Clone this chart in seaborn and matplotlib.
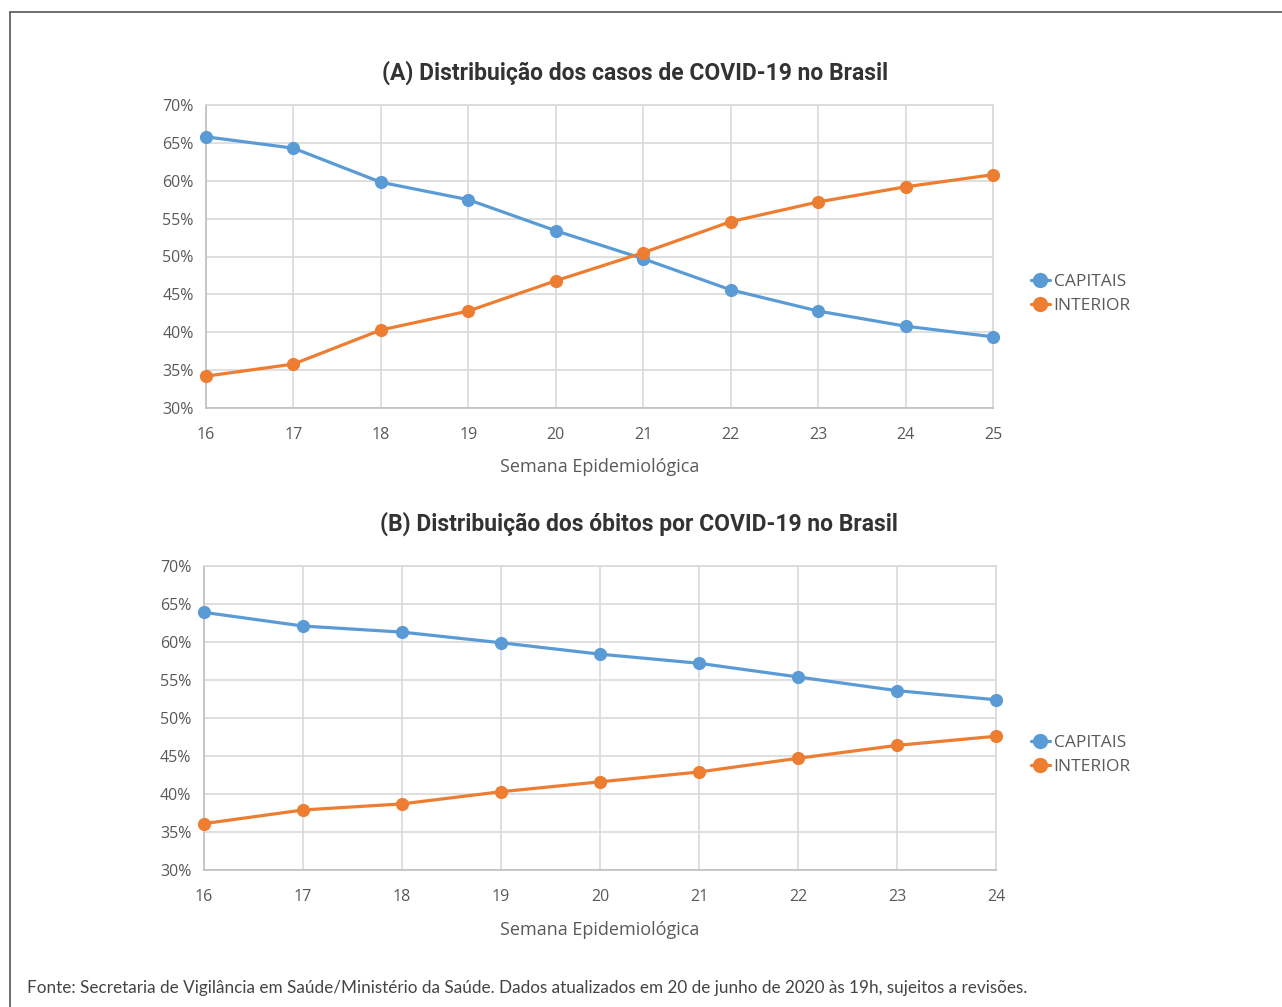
import matplotlib
matplotlib.use("Agg")
import matplotlib.pyplot as plt
import seaborn as sns
import pandas as pd
from matplotlib.lines import Line2D
from matplotlib.ticker import PercentFormatter

weeks_a = [16, 17, 18, 19, 20, 21, 22, 23, 24, 25]
capitais_a = [65.8, 64.3, 59.8, 57.5, 53.4, 49.7, 45.6, 42.8, 40.8, 39.4]
interior_a = [34.2, 35.8, 40.3, 42.8, 46.8, 50.5, 54.6, 57.2, 59.2, 60.8]

weeks_b = [16, 17, 18, 19, 20, 21, 22, 23, 24]
capitais_b = [63.9, 62.1, 61.3, 59.9, 58.4, 57.2, 55.4, 53.6, 52.4]
interior_b = [36.1, 37.9, 38.7, 40.3, 41.6, 42.9, 44.7, 46.4, 47.6]

series_names = ["CAPITAIS", "INTERIOR"]
title_a = "(A) Distribuição dos casos de COVID-19 no Brasil"
title_b = "(B) Distribuição dos óbitos por COVID-19 no Brasil"
xlabel = "Semana Epidemiológica"
footer = ("Fonte: Secretaria de Vigilância em Saúde/Ministério da Saúde. "
          "Dados atualizados em 20 de junho de 2020 às 19h, sujeitos a revisões.")

sns.set_theme(style="white")
plt.rcParams["font.family"] = ["Open Sans", "DejaVu Sans"]

palette = {"CAPITAIS": "#5B9BD5", "INTERIOR": "#ED7D31"}
grid_c = "#D9D9D9"
text_c = "#595959"

W, H = 1282, 1007
fig = plt.figure(figsize=(W / 100, H / 100), dpi=100)

def make_df(weeks, cap, intr):
    return pd.DataFrame({
        "week": weeks * 2,
        "value": cap + intr,
        "serie": [series_names[0]] * len(weeks) + [series_names[1]] * len(weeks),
    })

def draw(rect, weeks, cap, intr, title, title_x, title_y, xlabel_y, legend_y):
    l, t, r, b = rect
    ax = fig.add_axes([l / W, 1 - b / H, (r - l) / W, (b - t) / H])
    df = make_df(weeks, cap, intr)
    sns.lineplot(data=df, x="week", y="value", hue="serie", palette=palette,
                 marker="o", markersize=9.5, markeredgewidth=0, linewidth=2.3,
                 ax=ax, legend=False, zorder=3)
    for ln in ax.lines:
        ln.set_clip_on(False)
    ax.set_xlim(weeks[0], weeks[-1])
    ax.set_ylim(30, 70)
    ax.set_xticks(weeks)
    ax.set_yticks(range(30, 71, 5))
    ax.yaxis.set_major_formatter(PercentFormatter(decimals=0))
    ax.grid(True, color=grid_c, linewidth=1.2)
    for s in ax.spines.values():
        s.set_color(grid_c)
        s.set_linewidth(1.2)
    ax.spines["bottom"].set_color("#BFBFBF")
    ax.spines["left"].set_color("#BFBFBF")
    ax.tick_params(axis="both", length=0, labelsize=11.5, labelcolor=text_c)
    ax.tick_params(axis="x", pad=14)
    ax.tick_params(axis="y", pad=9)
    ax.set_xlabel("")
    ax.set_ylabel("")
    cx = (l + r) / 2
    fig.text(cx / W, 1 - xlabel_y / H, xlabel, ha="center", va="center",
             fontsize=13, color=text_c)
    fig.text(title_x / W, 1 - title_y / H, title, ha="center", va="center",
             fontsize=16.5, fontweight="bold", color="#333333",
             family=["Roboto", "DejaVu Sans"])
    handles = [Line2D([0], [0], color=palette[n], marker="o", markersize=11,
                      markeredgewidth=0, linewidth=2.3) for n in series_names]
    fig.legend(handles, series_names, loc="center left",
               bbox_to_anchor=(1024 / W, 1 - legend_y / H), frameon=False,
               fontsize=12.5, labelcolor=text_c, handlelength=1.1,
               handletextpad=0.2, labelspacing=0.45, borderaxespad=0)
    return ax

draw((206, 105, 993, 408), weeks_a, capitais_a, interior_a, title_a, 635, 73, 467, 294)
draw((204, 566, 996, 870), weeks_b, capitais_b, interior_b, title_b, 639, 524, 930, 755)

fig.text(27 / W, 1 - 988 / H, footer, ha="left", va="center",
         fontsize=12.35, color="#444444", family=["Lato", "DejaVu Sans"])

# frame lines (left and top) of the original figure box
fig.add_artist(Line2D([10 / W, 10 / W], [0, 1 - 12 / H], transform=fig.transFigure,
                      color="#555555", linewidth=1.2))
fig.add_artist(Line2D([10 / W, 1], [1 - 12 / H, 1 - 12 / H], transform=fig.transFigure,
                      color="#555555", linewidth=1.2))

fig.savefig("out.png", dpi=100, facecolor="white")
